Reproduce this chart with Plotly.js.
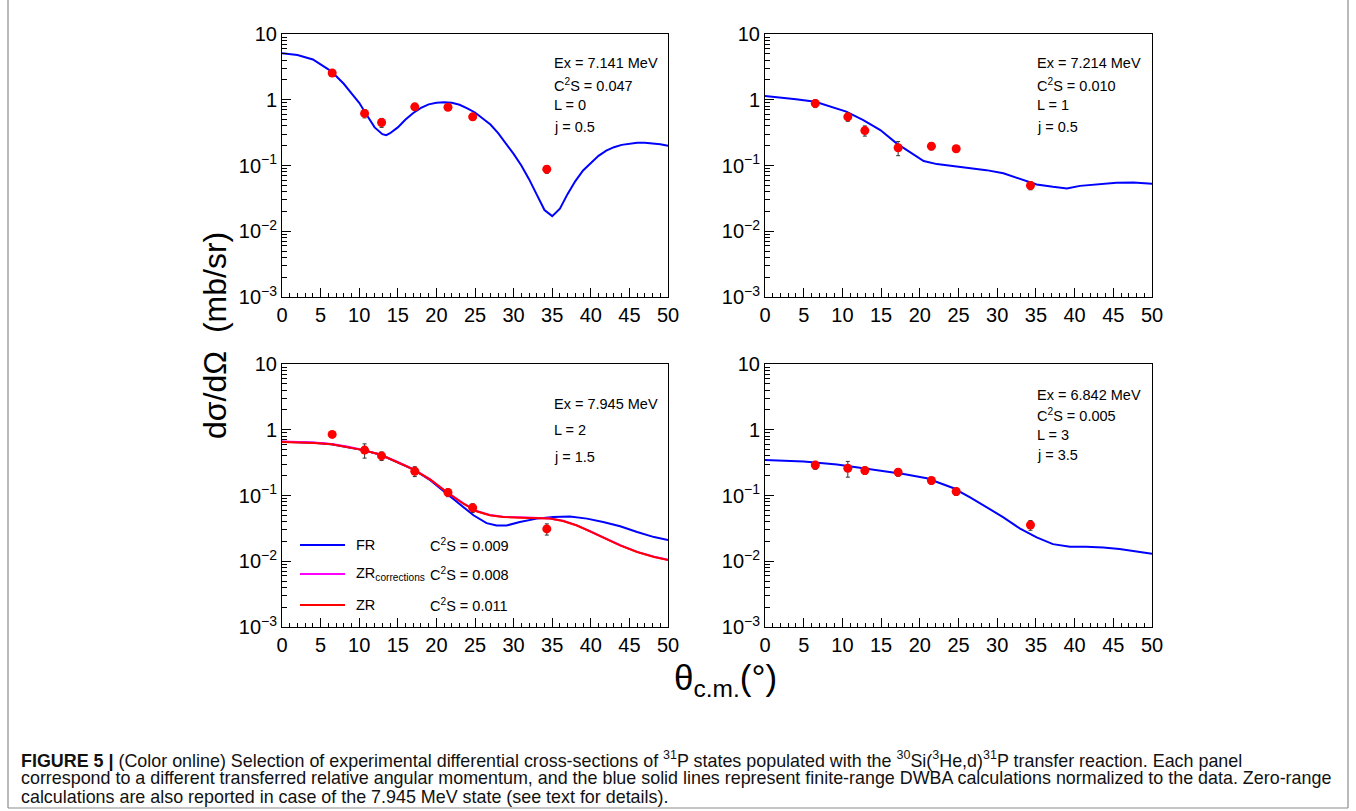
<!DOCTYPE html>
<html><head><meta charset="utf-8">
<script src="https://cdn.plot.ly/plotly-3.0.1.min.js"></script>
<style>html,body{margin:0;padding:0;background:#fff;}#chart{width:1356px;height:811px;}</style>
</head><body><div id="chart"></div>
<script>
// ---- experimental angles (deg, c.m.) ----
const thetaExp = [6.5, 10.7, 12.9, 17.2, 21.5, 24.7, 34.3];
const thetaErr = [0.5, 0.5, 0.5, 0.5, 0.5, 0.5, 0.5];

// ---- panel 1 : Ex = 7.141 MeV, L = 0 ----
const l0Exp = [2.55, 0.62, 0.45, 0.78, 0.77, 0.55, 0.088];
const l0Err = [0.25, 0.09, 0.07, 0.08, 0.08, 0.06, 0.012];
const l0Theta = [0,2,4,6,7,8,9,10,11,12,13,13.5,14,15,16,17,18,19,20,21,22,23,24,25,26,27,28,29,30,31,32,33,34,35,36,37,38,39,40,41,42,43,44,45,46,47,48,49,50];
const l0FR = [5.1,4.8,4.1,2.9,2.3,1.75,1.25,0.9,0.58,0.38,0.30,0.29,0.31,0.38,0.50,0.63,0.75,0.85,0.90,0.92,0.90,0.84,0.74,0.64,0.52,0.42,0.31,0.22,0.15,0.10,0.062,0.036,0.021,0.017,0.022,0.037,0.058,0.084,0.11,0.14,0.168,0.19,0.206,0.216,0.221,0.222,0.218,0.210,0.200];

// ---- panel 2 : Ex = 7.214 MeV, L = 1 ----
const l1Exp = [0.88, 0.55, 0.34, 0.186, 0.197, 0.18, 0.0497];
const l1Err = [0.12, 0.08, 0.06, 0.045, 0.025, 0.02, 0.007];
const l1Theta = [0,2,4,6.5,8.4,10.5,12.7,14.9,17,19.2,20.5,22.2,24.3,26.5,28.6,30.8,32.9,35.1,37.2,39,40.7,42.8,45.4,47.6,50];
const l1FR = [1.14,1.09,1.02,0.93,0.80,0.66,0.49,0.346,0.217,0.148,0.117,0.105,0.098,0.092,0.085,0.076,0.062,0.0515,0.0474,0.0448,0.049,0.0515,0.0546,0.055,0.053];

// ---- panel 3 : Ex = 7.945 MeV, L = 2 ----
const l2Exp = [0.85, 0.49, 0.40, 0.234, 0.111, 0.065, 0.031];
const l2Err = [0.08, 0.12, 0.06, 0.04, 0.015, 0.01, 0.006];
const l2Theta = [0,4.1,6.4,8.4,10.5,12.7,14.9,17,19.2,21.3,23.5,24.8,26.5,27.8,29.1,30.8,33,35.1,37.3,39.5,41.6,43.8,46,48.2,50];
const l2FR = [0.656,0.634,0.60,0.55,0.49,0.42,0.325,0.25,0.171,0.107,0.067,0.050,0.038,0.035,0.035,0.0395,0.0445,0.047,0.048,0.0445,0.0395,0.034,0.0278,0.0233,0.021];
const l2ZRTheta = [0,4.1,6.4,8.4,10.5,12.7,14.9,17,19.2,21.3,23.5,25.2,26.9,28.6,30.8,33,34.7,36.4,38.2,39.9,41.6,43.8,46,48.2,50];
const l2ZRcorr = [0.665,0.64,0.605,0.555,0.492,0.42,0.327,0.252,0.176,0.114,0.076,0.058,0.0505,0.0475,0.0465,0.046,0.0448,0.0412,0.0352,0.0286,0.0229,0.0175,0.0139,0.0117,0.0105];
const l2ZR = [0.65,0.63,0.60,0.55,0.49,0.42,0.325,0.25,0.175,0.113,0.075,0.0575,0.050,0.047,0.046,0.0455,0.0445,0.041,0.035,0.0285,0.0228,0.0174,0.0138,0.0116,0.0104];

// ---- panel 4 : Ex = 6.842 MeV, L = 3 ----
const l3Exp = [0.29, 0.26, 0.24, 0.226, 0.169, 0.115, 0.0356];
const l3Err = [0.04, 0.07, 0.03, 0.03, 0.02, 0.015, 0.006];
const l3Theta = [0,5,9.3,13.6,17.9,20.9,24.3,26.5,28.6,30.8,32.9,35.1,37.2,39.4,41.5,43.7,45.8,48,50];
const l3FR = [0.348,0.329,0.296,0.254,0.213,0.183,0.130,0.094,0.0677,0.0466,0.0316,0.0231,0.0182,0.0166,0.0166,0.0162,0.0153,0.0141,0.0130];

// ---- texts ----
const panelTexts = [
  ["Ex = 7.141 MeV", "C<sup>2</sup>S = 0.047", "L = 0", "j = 0.5"],
  ["Ex = 7.214 MeV", "C<sup>2</sup>S = 0.010", "L = 1", "j = 0.5"],
  ["Ex = 7.945 MeV", "L = 2", "j = 1.5"],
  ["Ex = 6.842 MeV", "C<sup>2</sup>S = 0.005", "L = 3", "j = 3.5"]
];
const legendNames = ["FR", "ZR<sub>corrections</sub>", "ZR"];
const legendC2S = ["C<sup>2</sup>S = 0.009", "C<sup>2</sup>S = 0.008", "C<sup>2</sup>S = 0.011"];
const legendColors = ["#0000ff", "#ff00ff", "#ff0000"];
const yTickVals = [0.001, 0.01, 0.1, 1, 10];
const yTickText = ["10<sup>\u22123</sup>", "10<sup>\u22122</sup>", "10<sup>\u22121</sup>", "1", "10"];
const yTitle = "d\u03c3/d\u03a9  (mb/sr)";
const xTitle = "\u03b8<sub>c.m.</sub>(\u00b0)";
const caption = [
  "<b>FIGURE 5 |</b> (Color online) Selection of experimental differential cross-sections of <sup>31</sup>P states populated with the <sup>30</sup>Si(<sup>3</sup>He,d)<sup>31</sup>P transfer reaction. Each panel",
  "correspond to a different transferred relative angular momentum, and the blue solid lines represent finite-range DWBA calculations normalized to the data. Zero-range",
  "calculations are also reported in case of the 7.945 MeV state (see text for details)."
];

// ---- geometry helpers (pixels -> paper) ----
const W = 1356, H = 811;
const px = x => x / W;
const py = y => 1 - y / H;
const FONT = "'Liberation Sans', Arial, Helvetica, sans-serif";

const minorY = [];
for (let e = -3; e < 1; e++) for (let d = 2; d <= 9; d++) minorY.push(d * Math.pow(10, e));

function xAxis(x0, x1, anchor) {
  return {domain: [px(x0), px(x1)], anchor: anchor, range: [0, 50], tick0: 0, dtick: 5,
    ticks: 'inside', ticklen: 9, tickwidth: 1, tickcolor: '#000',
    showline: true, mirror: true, linecolor: '#000', linewidth: 1,
    showgrid: false, zeroline: false, fixedrange: true,
    tickfont: {family: FONT, size: 20, color: '#000'},
    minor: {dtick: 1, ticks: 'inside', ticklen: 4.5, tickcolor: '#000', tickwidth: 1, showgrid: false}};
}
function yAxis(y0, y1, anchor) {
  return {domain: [py(y1), py(y0)], anchor: anchor, type: 'log', range: [-3, 1],
    tickmode: 'array', tickvals: yTickVals, ticktext: yTickText,
    ticks: 'inside', ticklen: 9, tickwidth: 1, tickcolor: '#000',
    showline: true, mirror: true, linecolor: '#000', linewidth: 1,
    showgrid: false, zeroline: false, fixedrange: true,
    tickfont: {family: FONT, size: 20, color: '#000'},
    minor: {tickmode: 'array', tickvals: minorY, ticks: 'inside', ticklen: 4.5, tickcolor: '#000', tickwidth: 1, showgrid: false}};
}

function curve(x, y, color, xa, ya) {
  return {type: 'scatter', mode: 'lines', x: x, y: y, xaxis: xa, yaxis: ya,
    line: {color: color, width: 2}, hoverinfo: 'skip', showlegend: false};
}
function points(y, err, xa, ya) {
  return {type: 'scatter', mode: 'markers', x: thetaExp, y: y, xaxis: xa, yaxis: ya,
    marker: {color: '#ff0000', size: 9, symbol: 'circle'},
    error_y: {type: 'data', array: err, visible: true, color: '#333', thickness: 1, width: 2},
    error_x: {type: 'data', array: thetaErr, visible: true, color: '#333', thickness: 1, width: 0},
    showlegend: false, hoverinfo: 'skip'};
}

const traces = [
  curve(l0Theta, l0FR, '#0000ff', 'x', 'y'),
  points(l0Exp, l0Err, 'x', 'y'),
  curve(l1Theta, l1FR, '#0000ff', 'x2', 'y2'),
  points(l1Exp, l1Err, 'x2', 'y2'),
  curve(l2Theta, l2FR, '#0000ff', 'x3', 'y3'),
  curve(l2ZRTheta, l2ZRcorr, '#ff00ff', 'x3', 'y3'),
  curve(l2ZRTheta, l2ZR, '#ff0000', 'x3', 'y3'),
  points(l2Exp, l2Err, 'x3', 'y3'),
  curve(l3Theta, l3FR, '#0000ff', 'x4', 'y4'),
  points(l3Exp, l3Err, 'x4', 'y4')
];

const annotations = [];
function ann(text, x, y, o) {
  annotations.push(Object.assign({text: text, x: px(x), y: py(y), xref: 'paper', yref: 'paper',
    xanchor: 'left', yanchor: 'middle', showarrow: false,
    font: {family: FONT, size: 14.5, color: '#000'}}, o || {}));
}
// panel text blocks
const textPos = [
  {x: 552, ys: [63, 85, 105, 127]},
  {x: 1035, ys: [63, 85, 105, 127]},
  {x: 552, ys: [404, 430, 457]},
  {x: 1035, ys: [395, 415, 435, 455]}
];
panelTexts.forEach((lines, i) => lines.forEach((t, k) => ann(t, textPos[i].x, textPos[i].ys[k])));
// legend in panel 3
const legendY = [545, 574, 605];
const shapes = [];
legendNames.forEach((n, k) => {
  shapes.push({type: 'line', xref: 'paper', yref: 'paper', x0: px(300), x1: px(345), y0: py(legendY[k]), y1: py(legendY[k]),
    line: {color: legendColors[k], width: 2}});
  ann(n, 354, legendY[k]);
  ann(legendC2S[k], 428, legendY[k]);
});
// axis titles
ann(yTitle, 215, 335, {xanchor: 'center', textangle: -90, font: {family: FONT, size: 32, color: '#000'}});
ann(xTitle, 725, 680, {xanchor: 'center', font: {family: FONT, size: 35, color: '#000'}});
// caption
const capY = [759, 778, 797];
caption.forEach((c, k) => ann(c, 19, capY[k], {font: {family: FONT, size: 17.9, color: '#111'}}));
// outer frame (left, right, bottom)
[[8, 8, -5, 808], [1348, 1348, -5, 808], [8, 1348, 808, 808]].forEach(s => shapes.push({type: 'line', xref: 'paper', yref: 'paper',
  x0: px(s[0]), x1: px(s[1]), y0: py(s[2]), y1: py(s[3]), line: {color: '#8c8c8c', width: 1.2}}));

const layout = {
  width: W, height: H, margin: {l: 0, r: 0, t: 0, b: 0},
  paper_bgcolor: '#fff', plot_bgcolor: '#fff', showlegend: false,
  xaxis: xAxis(282, 668, 'y'), yaxis: yAxis(34, 297, 'x'),
  xaxis2: xAxis(765, 1152, 'y2'), yaxis2: yAxis(34, 297, 'x2'),
  xaxis3: xAxis(282, 668, 'y3'), yaxis3: yAxis(364, 627, 'x3'),
  xaxis4: xAxis(765, 1152, 'y4'), yaxis4: yAxis(364, 627, 'x4'),
  annotations: annotations, shapes: shapes
};
Plotly.newPlot('chart', traces, layout, {displayModeBar: false, staticPlot: true});
</script></body></html>
